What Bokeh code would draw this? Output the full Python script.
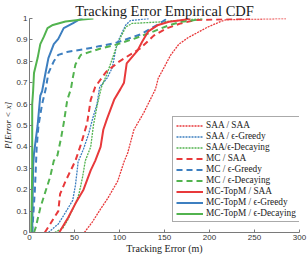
from bokeh.plotting import figure
from bokeh.models import Legend, LegendItem, FixedTicker, Range1d
from bokeh.embed import file_html
from bokeh.resources import INLINE

# ---- data (tracking error in m vs empirical CDF) ----
saa_saa_x = [61, 70, 79, 87, 98, 105, 109, 116, 127, 140, 143, 157, 166, 176, 198, 212, 218, 250, 285]
saa_saa_y = [0, .05, .11, .16, .24, .33, .37, .48, .56, .67, .72, .83, .88, .91, .96, .985, .994, .997, 1]

saa_greedy_x = [21, 32, 38, 48, 51, 53, 54, 60, 66, 70, 75, 78, 86, 92, 96, 99, 107, 112, 133]
saa_greedy_y = [0, .04, .08, .15, .22, .29, .33, .39, .465, .53, .6, .68, .72, .77, .86, .9, .97, .99, 1]

saa_decay_x = [28, 37, 42, 51, 55, 59, 62, 68, 71, 75, 80, 86, 96, 101, 107, 114, 150, 190]
saa_decay_y = [0, .02, .055, .135, .18, .26, .335, .4, .5, .59, .68, .74, .86, .91, .96, .977, .985, 1]

mc_saa_x = [17, 23, 32, 34, 40, 51, 57, 64, 68, 73, 85, 100, 123, 138, 153, 168, 185, 245]
mc_saa_y = [0, .04, .1, .18, .24, .335, .41, .51, .62, .68, .75, .8, .86, .92, .955, .977, .993, 1]

mc_greedy_x = [3, 6, 8, 9, 10, 14, 18, 21, 27, 32, 43, 59, 77, 95, 123, 142, 153]
mc_greedy_y = [0, .2, .4, .45, .5, .6, .67, .745, .8, .83, .845, .855, .87, .885, .925, .97, 1]

mc_decay_x = [5, 7, 12, 18, 23, 27, 31, 35, 38, 42, 46, 48, 51, 57, 68, 79, 94, 116, 138, 153, 168, 180, 192]
mc_decay_y = [0, .025, .115, .195, .26, .335, .36, .44, .51, .62, .67, .72, .785, .83, .845, .86, .875, .905, .94, .965, .985, .99, 1]

top_saa_x = [33, 43, 51, 60, 68, 73, 79, 82, 86, 94, 101, 105, 108, 120, 125, 132, 143, 155, 168, 179]
top_saa_y = [0, .07, .135, .2, .29, .335, .4, .48, .53, .62, .67, .7, .79, .85, .89, .94, .97, .985, .992, 1]

top_greedy_x = [3, 4, 5, 9, 12, 14, 18, 21, 27, 32, 38, 48, 55, 59]
top_greedy_y = [0, .31, .37, .5, .64, .66, .75, .815, .88, .905, .955, .977, .995, 1]

top_decay_x = [2, 3, 3, 4, 5, 9, 12, 16, 20, 26, 40, 59, 71]
top_decay_y = [0, .3, .6, .66, .745, .815, .88, .915, .955, .97, .986, .995, 1]

labels = ["SAA / SAA", "SAA / ϵ-Greedy", "SAA/ϵ-Decaying",
          "MC / SAA", "MC / ϵ-Greedy", "MC / ϵ-Decaying",
          "MC-TopM / SAA", "MC-TopM / ϵ-Greedy", "MC-TopM / ϵ-Decaying"]
x_ticks = [0, 50, 100, 150, 200, 250, 300]
y_ticks = [0, 0.1, 0.2, 0.3, 0.4, 0.5, 0.6, 0.7, 0.8, 0.9, 1.0]
title_text = "Tracking Error Empirical CDF"
x_label = "Tracking Error (m)"
y_label = "P[Error < x]"

RED, BLUE, GREEN = "#e8393b", "#3d7fc0", "#52b34f"
series = [
    (saa_saa_x, saa_saa_y, RED, "dotted"),
    (saa_greedy_x, saa_greedy_y, BLUE, "dotted"),
    (saa_decay_x, saa_decay_y, GREEN, "dotted"),
    (mc_saa_x, mc_saa_y, RED, "dashed"),
    (mc_greedy_x, mc_greedy_y, BLUE, "dashed"),
    (mc_decay_x, mc_decay_y, GREEN, "dashed"),
    (top_saa_x, top_saa_y, RED, "solid"),
    (top_greedy_x, top_greedy_y, BLUE, "solid"),
    (top_decay_x, top_decay_y, GREEN, "solid"),
]

p = figure(width=307, height=258, output_backend="svg", toolbar_location=None,
           x_range=Range1d(0, 300), y_range=Range1d(0, 1),
           min_border_left=29, min_border_right=8, min_border_top=17, min_border_bottom=26)

p.title.text = title_text
p.title.text_font = "Liberation Serif"
p.title.text_font_size = "14.5px"
p.title.text_font_style = "normal"
p.title.align = "center"
p.title.text_color = "#1a1a1a"
p.title.standoff = 0
p.title.offset = 0

p.xgrid.visible = False
p.ygrid.visible = False
p.outline_line_color = None

for ax in (p.xaxis[0], p.yaxis[0]):
    ax.major_tick_in = 3
    ax.major_tick_out = 0
    ax.minor_tick_line_color = None
    ax.axis_line_color = "#7a7a7a"
    ax.major_tick_line_color = "#7a7a7a"
    ax.major_label_text_font = "Liberation Sans"
    ax.major_label_text_font_size = "8px"
    ax.major_label_text_color = "#333333"
    ax.major_label_standoff = 2
    ax.axis_label_text_font = "Liberation Serif"
    ax.axis_label_text_color = "#222222"
    ax.axis_label_standoff = 0

p.xaxis.ticker = FixedTicker(ticks=x_ticks)
p.yaxis.ticker = FixedTicker(ticks=y_ticks)
p.yaxis.major_label_overrides = {0: "0", 1: "1"}
p.xaxis.axis_label = x_label
p.xaxis.axis_label_text_font_size = "10px"
p.xaxis.axis_label_text_font_style = "normal"
p.yaxis.axis_label = y_label
p.yaxis.axis_label_text_font_size = "9px"
p.yaxis.axis_label_text_font_style = "italic"

items = []
for (xs, ys, col, style), lab in zip(series, labels):
    if style == "dotted":
        r = p.line(xs, ys, line_color=col, line_width=1.3, line_dash="2 1")
    elif style == "dashed":
        r = p.line(xs, ys, line_color=col, line_width=2, line_dash="6 4")
    else:
        r = p.line(xs, ys, line_color=col, line_width=2)
    items.append(LegendItem(label=lab, renderers=[r]))

legend = Legend(items=items, location=(143, 10))
legend.label_text_font = "Liberation Serif"
legend.label_text_font_size = "9.3px"
legend.label_text_color = "#222222"
legend.label_height = 9
legend.glyph_height = 9
legend.glyph_width = 27
legend.label_standoff = 3
legend.spacing = 1
legend.padding = 3
legend.margin = 0
legend.border_line_color = "#555555"
legend.border_line_width = 1
legend.background_fill_color = "white"
p.add_layout(legend)

open("out.html", "w").write(file_html(p, INLINE))
